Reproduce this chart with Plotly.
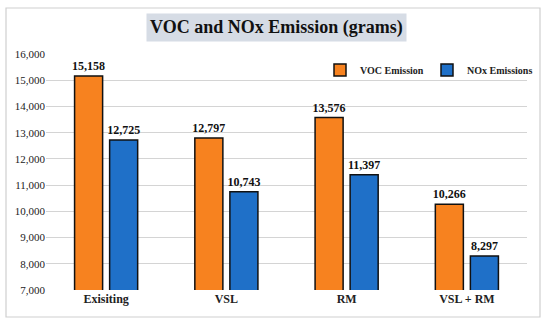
import plotly.graph_objects as go

categories = ["Exisiting", "VSL", "RM", "VSL + RM"]
voc = [15158, 12797, 13576, 10266]
nox = [12725, 10743, 11397, 8297]
tick_vals = [7000, 8000, 9000, 10000, 11000, 12000, 13000, 14000, 15000, 16000]

serif = "Liberation Serif, Times New Roman, serif"

L, R, T, B = 46, 23, 54, 36
W, H = 550, 326
PW, PH = W - L - R, H - T - B

def px_x(x):
    return (x - L) / PW

def px_y(y):
    return (H - B - y) / PH

fig = go.Figure()
fig.add_trace(go.Bar(
    x=categories, y=voc, name="VOC Emission",
    marker=dict(color="#F7821F", line=dict(color="#111111", width=1.5)),
    texttemplate="%{y:,}", textposition="outside", constraintext="none",
    textfont=dict(family=serif, size=12, color="#111111", weight="bold"),
    cliponaxis=False,
))
fig.add_trace(go.Bar(
    x=categories, y=nox, name="NOx Emissions",
    marker=dict(color="#1F70C8", line=dict(color="#111111", width=1.5)),
    texttemplate="%{y:,}", textposition="outside", constraintext="none",
    textfont=dict(family=serif, size=12, color="#111111", weight="bold"),
    cliponaxis=False,
))

fig.update_layout(
    width=W, height=H,
    margin=dict(l=L, r=R, t=T, b=B, autoexpand=False),
    paper_bgcolor="white", plot_bgcolor="white",
    barmode="group", bargap=0.417, bargroupgap=0.2,
    font=dict(family=serif, color="#222222"),
    showlegend=True,
    legend=dict(orientation="h", x=px_x(320), y=px_y(70), xanchor="left", yanchor="middle",
                font=dict(family=serif, size=10, color="#222222", weight="bold"),
                entrywidth=62, entrywidthmode="pixels", itemwidth=30,
                tracegroupgap=0, bgcolor="rgba(0,0,0,0)"),
    xaxis=dict(showgrid=False, showline=False, ticks="", automargin=False,
               tickfont=dict(family=serif, size=12, color="#222222", weight="bold")),
    yaxis=dict(range=[7000, 16000], tickvals=tick_vals, tickformat=",", automargin=False,
               showgrid=True, gridcolor="#d4d4d4", gridwidth=1.2, zeroline=False,
               showline=False, ticks="",
               tickfont=dict(family=serif, size=11, color="#222222")),
    shapes=[
        dict(type="rect", xref="paper", yref="paper",
             x0=px_x(6), x1=px_x(540), y0=px_y(317), y1=px_y(8),
             line=dict(color="#cfcfcf", width=1.2), fillcolor="rgba(0,0,0,0)", layer="below"),
    ],
    annotations=[
        dict(text="<b>VOC and NOx Emission (grams)</b>", xref="paper", yref="paper",
             x=px_x(276), y=px_y(27), xanchor="center", yanchor="middle",
             showarrow=False, bgcolor="#d6dce5", borderpad=3,
             font=dict(family=serif, size=18, color="#111111")),
    ],
)

fig.write_html("out.html", config={"displayModeBar": False},
               post_script="document.body.style.margin='0';")
